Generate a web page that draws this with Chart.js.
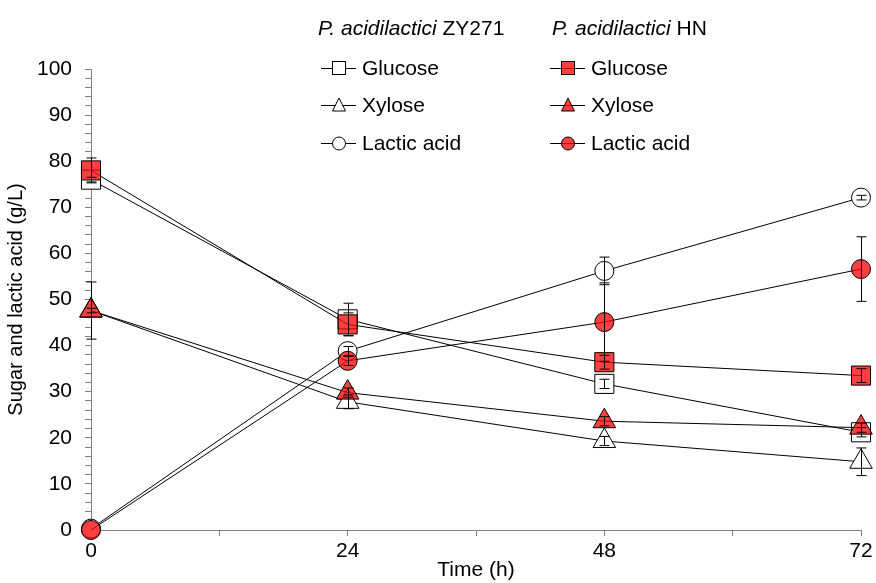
<!DOCTYPE html>
<html>
<head>
<meta charset="utf-8">
<script src="https://cdn.jsdelivr.net/npm/chart.js@4.4.1/dist/chart.umd.min.js"></script>
<style>
  body { margin: 0; background: #fff; }
  #wrap { position: relative; width: 876px; height: 583px; font-family: 'Liberation Sans', Arial, sans-serif; }
  #legend .item { position: absolute; height: 24px; line-height: 24px; font-size: 21px; color: #000; white-space: nowrap; }
  #legend svg { position: absolute; left: 0; top: 0; }
  #legend .lbl { position: absolute; top: 0; }
</style>
</head>
<body>
<div id="wrap">
  <canvas id="chart" width="876" height="583"></canvas>
  <div id="legend"></div>
</div>
<script>
const hours = [0, 24, 48, 72];

const zyGlucose = [76, 45.7, 31.7, 21.2];
const zyXylose = [47.6, 27.8, 19.3, 14.8];
const zyLactic = [0.3, 38.8, 56.2, 72.1];
const hnGlucose = [78, 44.6, 36.4, 33.5];
const hnXylose = [47.6, 29.8, 23.6, 22.2];
const hnLactic = [0, 36.7, 45.1, 56.6];

const zyGlucoseErr = [0.5, 3.5, 1, 1];
const zyXyloseErr = [0.5, 1.5, 1, 3];
const zyLacticErr = [0, 1, 3, 0.5];
const hnGlucoseErr = [2.7, 2.5, 1.5, 1.5];
const hnXyloseErr = [6.2, 1, 1, 1];
const hnLacticErr = [0, 1, 8.5, 7];

const red = 'rgba(255, 0, 0, 0.75)';

function series(label, values, errs, shape, radius, fill) {
    return {
        label: label,
        data: hours.map((h, i) => ({ x: h, y: values[i] })),
        err: errs,
        borderColor: '#000',
        borderWidth: 1,
        pointStyle: shape,
        pointRadius: radius,
        pointHoverRadius: radius,
        pointBackgroundColor: fill,
        pointBorderColor: '#000',
        pointBorderWidth: 1,
        fill: false,
        tension: 0,
        clip: false
    };
}

const errorBars = {
    id: 'errorBars',
    afterDatasetsDraw(chart) {
        const ctx = chart.ctx;
        const yScale = chart.scales.y;
        ctx.save();
        ctx.strokeStyle = '#000';
        ctx.lineWidth = 1;
        chart.data.datasets.forEach((ds, di) => {
            const meta = chart.getDatasetMeta(di);
            meta.data.forEach((pt, i) => {
                const e = ds.err[i];
                if (!e) return;
                const v = ds.data[i].y;
                const x = Math.round(pt.x) + 0.5;
                const top = yScale.getPixelForValue(v + e);
                const bot = yScale.getPixelForValue(Math.max(0, v - e));
                ctx.beginPath();
                ctx.moveTo(x, top); ctx.lineTo(x, bot);
                ctx.moveTo(x - 5, top); ctx.lineTo(x + 5, top);
                ctx.moveTo(x - 5, bot); ctx.lineTo(x + 5, bot);
                ctx.stroke();
            });
        });
        ctx.restore();
    }
};

const font = { family: "'Liberation Sans', Arial, sans-serif", size: 21 };

new Chart(document.getElementById('chart'), {
    type: 'line',
    data: {
        datasets: [
            series('HN Glucose', hnGlucose, hnGlucoseErr, 'rect', 13.5, red),
            series('HN Xylose', hnXylose, hnXyloseErr, 'triangle', 13, red),
            series('HN Lactic acid', hnLactic, hnLacticErr, 'circle', 9.5, red),
            series('ZY271 Glucose', zyGlucose, zyGlucoseErr, 'rect', 13.5, '#fff'),
            series('ZY271 Xylose', zyXylose, zyXyloseErr, 'triangle', 13, '#fff'),
            series('ZY271 Lactic acid', zyLactic, zyLacticErr, 'circle', 9.5, '#fff')
        ]
    },
    options: {
        responsive: false,
        animation: false,
        layout: { padding: { left: 0, right: 15, top: 69, bottom: 0 } },
        plugins: { legend: { display: false }, tooltip: { enabled: false } },
        scales: {
            x: {
                type: 'linear',
                min: 0,
                max: 72,
                afterFit(scale) { scale.height = 53; },
                border: { color: '#808080', width: 1 },
                grid: { drawOnChartArea: false, drawTicks: true, tickLength: 6, color: '#808080' },
                ticks: {
                    stepSize: 12,
                    autoSkip: false,
                    maxRotation: 0,
                    padding: 3,
                    color: '#000',
                    font: font,
                    callback: v => (v % 24 === 0 ? v : '')
                },
                title: { display: true, text: 'Time (h)', color: '#000', font: font, padding: { top: 0, bottom: 0 } }
            },
            y: {
                min: 0,
                max: 100,
                afterFit(scale) { scale.width = 91; },
                border: { color: '#808080', width: 1 },
                grid: { drawOnChartArea: false, drawTicks: true, tickLength: 6, color: '#808080' },
                ticks: {
                    stepSize: 2,
                    autoSkip: false,
                    padding: 13,
                    color: '#000',
                    font: font,
                    callback: v => (v % 10 === 0 ? v : '')
                },
                title: {
                    display: true,
                    text: 'Sugar and lactic acid (g/L)',
                    color: '#000',
                    font: { family: font.family, size: 20 },
                    padding: { top: 4, bottom: 0 }
                }
            }
        }
    },
    plugins: [errorBars]
});

// legend drawn as html, laid out in two columns like the original
function markerSvg(shape, fill) {
    let m = '';
    if (shape === 'rect') m = `<rect x="11.5" y="5.5" width="13" height="13" fill="${fill}" stroke="#000"/>`;
    if (shape === 'triangle') m = `<polygon points="18,5 24.5,18 11.5,18" fill="${fill}" stroke="#000"/>`;
    if (shape === 'circle') m = `<circle cx="18" cy="12.5" r="6.5" fill="${fill}" stroke="#000"/>`;
    return `<svg width="36" height="24"><line x1="0" y1="12.5" x2="35" y2="12.5" stroke="#000"/>${m}</svg>`;
}

const legendRows = [
    { y: 68, name: 'Glucose', shape: 'rect' },
    { y: 105, name: 'Xylose', shape: 'triangle' },
    { y: 143, name: 'Lactic acid', shape: 'circle' }
];
const legendCols = [
    { hx: 318, x: 321, strain: 'ZY271', fill: '#fff' },
    { hx: 552, x: 550, strain: 'HN', fill: red }
];

const legendEl = document.getElementById('legend');
let html = '';
legendCols.forEach(c => {
    html += `<div class="item" style="left:${c.hx}px;top:${28 - 12}px"><i>P. acidilactici</i> ${c.strain}</div>`;
    legendRows.forEach(r => {
        html += `<div class="item" style="left:${c.x}px;top:${r.y - 12}px;width:160px">${markerSvg(r.shape, c.fill)}<span class="lbl" style="left:41px">${r.name}</span></div>`;
    });
});
legendEl.innerHTML = html;
</script>
</body>
</html>
